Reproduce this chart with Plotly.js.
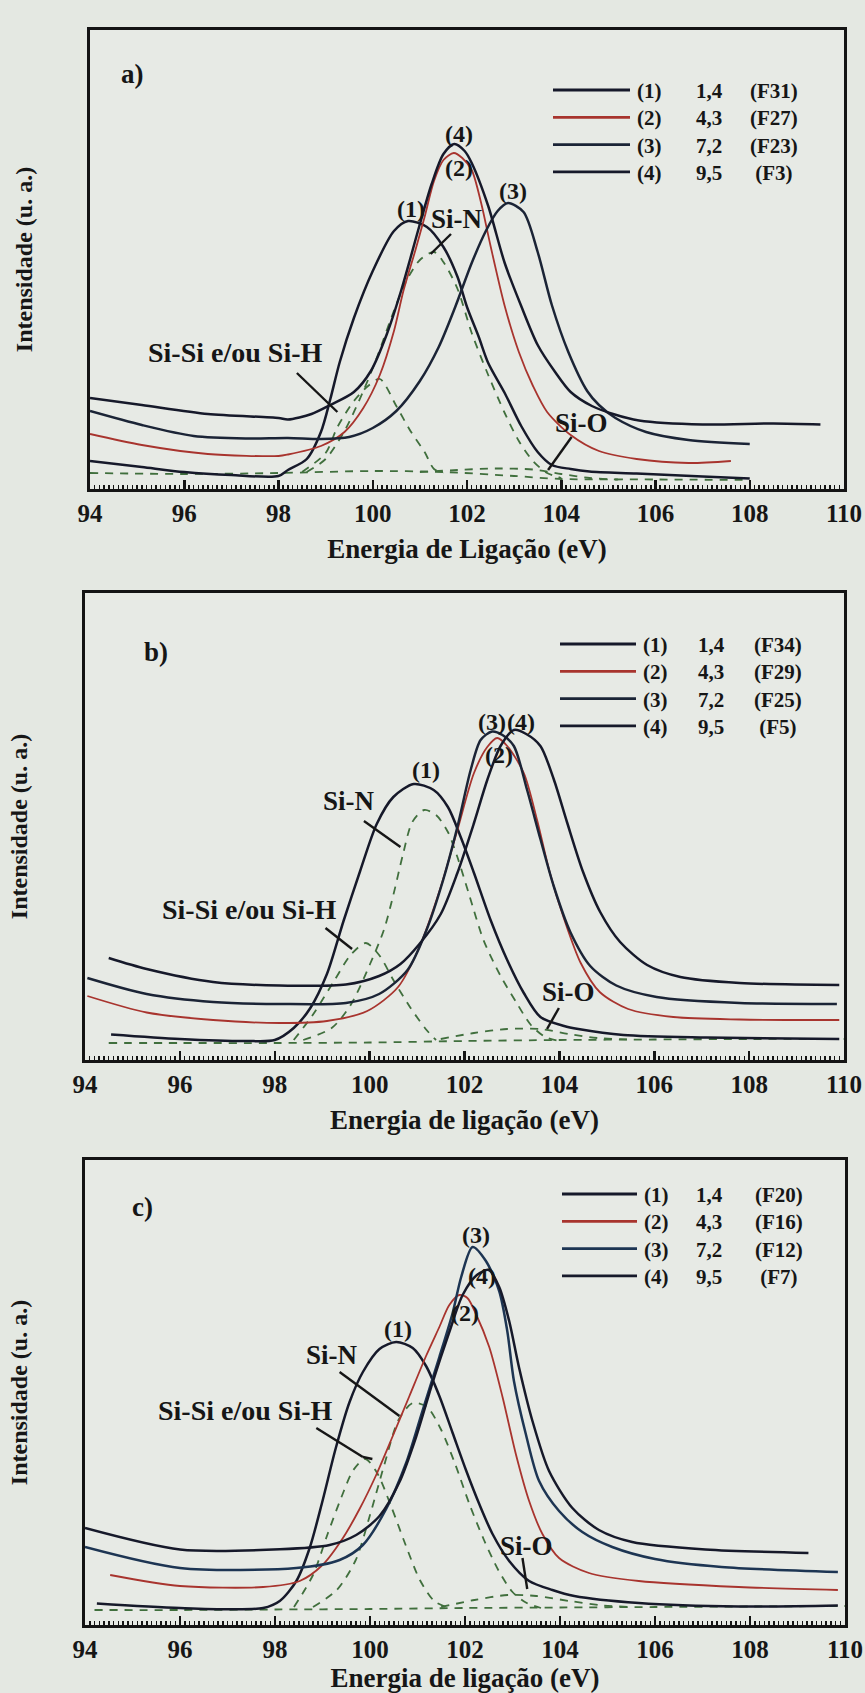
<!DOCTYPE html>
<html><head><meta charset="utf-8">
<script src="https://cdn.plot.ly/plotly-3.0.1.min.js"></script>
<style>html,body{margin:0;padding:0;background:#e2e6e0;}#chart{width:865px;height:1693px;}</style>
</head><body><div id="chart"></div>
<script>
// ---------- shared labels ----------
const SAMPLE_NUM = ['(1)', '(2)', '(3)', '(4)'];
const SAMPLE_VAL = ['1,4', '4,3', '7,2', '9,5'];
const FCODE_A = ['(F31)', '(F27)', '(F23)', '(F3)'];
const FCODE_B = ['(F34)', '(F29)', '(F25)', '(F5)'];
const FCODE_C = ['(F20)', '(F16)', '(F12)', '(F7)'];
const XTITLE_A = 'Energia de Ligação (eV)';
const XTITLE_BC = 'Energia de ligação (eV)';
const YTITLE = 'Intensidade (u. a.)';

// ---------- panel a ----------
const a1_e = [94.0, 95.1, 96.0, 97.0, 98.0, 98.2, 98.6, 98.9, 99.1, 99.3, 99.6, 100.0, 100.45, 100.75, 101.15, 101.5, 101.8, 102.0, 102.25, 102.45, 102.8, 103.15, 103.5, 103.8, 104.2, 104.6, 105.6, 107.0, 108.0];
const a1_i = [28, 22, 17, 14, 13, 19, 30, 57, 90, 127, 171, 218, 258, 268, 262, 242, 212, 182, 152, 126, 96, 63, 37, 24, 20, 17.5, 15.5, 12.5, 10.5];
const a2_e = [94.0, 95.1, 96.5, 98.0, 98.2, 98.9, 99.4, 99.8, 100.15, 100.45, 100.65, 100.9, 101.1, 101.3, 101.5, 101.72, 101.9, 102.1, 102.3, 102.5, 102.8, 103.1, 103.4, 103.7, 104.2, 104.8, 105.6, 106.7, 107.6];
const a2_i = [55, 44, 35, 33, 34.5, 43, 57, 81, 114, 158, 198, 238, 272, 308, 329, 336, 331, 319, 286, 243, 183, 137, 103, 77, 54, 38, 30, 26, 28];
const a3_e = [94.0, 95.1, 96.2, 97.3, 98.2, 98.9, 99.5, 100.0, 100.5, 101.0, 101.4, 101.75, 102.1, 102.4, 102.65, 102.87, 103.2, 103.5, 103.8, 104.15, 104.55, 104.8, 105.15, 105.8, 106.7, 108.0];
const a3_i = [78, 64, 53, 50.5, 51, 50, 52, 61, 78, 108, 142, 182, 226, 258, 278, 286, 277, 237, 184, 137, 98, 84, 71, 57, 49, 45];
const a4_e = [94.0, 95.1, 96.5, 98.0, 98.2, 98.7, 99.1, 99.6, 99.96, 100.3, 100.6, 100.8, 101.0, 101.25, 101.5, 101.73, 101.95, 102.1, 102.45, 102.8, 103.15, 103.5, 103.87, 104.2, 104.65, 105.1, 105.65, 107.0, 108.5, 109.5];
const a4_i = [91, 84, 75, 71, 69.5, 75, 84, 97, 118, 155, 198, 231, 265, 305, 335, 345, 338, 326, 283, 226, 183, 144, 117, 97, 83, 75, 68.5, 64.5, 65.5, 64.5];
const aBase_e = [94.0, 96.0, 98.0, 100.0, 101.5, 103.0, 104.0, 106.0, 108.0];
const aBase_i = [16, 15, 16, 18, 17, 13, 10, 9.5, 9];
const aSiSi_e = [98.5, 99.0, 99.25, 99.6, 99.9, 100.15, 100.5, 100.8, 101.1, 101.3, 101.5];
const aSiSi_i = [17, 36, 62, 88, 103, 110, 83, 58, 37, 20, 16];
const aSiN_e = [98.6, 99.0, 99.4, 99.8, 100.1, 100.4, 100.7, 101.0, 101.3, 101.5, 101.8, 102.1, 102.45, 102.8, 103.1, 103.4, 103.7, 104.0];
const aSiN_i = [17, 30, 58, 98, 133, 172, 207, 229, 237, 227, 200, 156, 114, 76, 48, 28, 16, 11];
const aSiO_e = [101.0, 101.8, 102.6, 103.4, 104.0, 104.6, 105.2];
const aSiO_i = [17, 19, 20.5, 19.5, 15, 11, 9.5];

// ---------- panel b ----------
const b1_e = [94.55, 96.0, 97.4, 98.0, 98.4, 98.75, 99.1, 99.45, 99.8, 100.15, 100.5, 100.93, 101.35, 101.65, 101.92, 102.2, 102.55, 102.9, 103.25, 103.6, 104.1, 104.4, 105.35, 107.1, 109.9];
const b1_i = [25.5, 21, 19, 20, 32, 52, 86, 139, 189, 236, 263, 276, 270, 253, 223, 187, 140, 100, 67, 43, 34, 31, 25, 22.5, 21];
const b2_e = [94.05, 95.3, 96.7, 98.1, 99.1, 99.95, 100.6, 101.05, 101.5, 101.85, 102.2, 102.48, 102.69, 102.9, 103.25, 103.53, 103.8, 104.1, 104.45, 104.85, 105.45, 106.4, 107.8, 109.9];
const b2_i = [64, 47.5, 40, 37, 39, 49, 73, 113, 173, 230, 287, 313, 322, 314, 287, 240, 187, 141, 97, 68, 51, 43, 40.5, 40];
const b3_e = [94.05, 95.3, 96.7, 98.1, 99.5, 100.2, 100.8, 101.2, 101.55, 101.85, 102.13, 102.34, 102.58, 102.8, 103.04, 103.32, 103.6, 103.88, 104.23, 104.65, 105.2, 106.05, 107.8, 109.85];
const b3_i = [82, 66, 58, 56, 57, 66, 90, 130, 180, 233, 290, 320, 328.5, 325, 314, 270, 221, 174, 128, 94, 74.5, 63, 57, 56];
const b4_e = [94.5, 95.3, 96.7, 98.1, 99.5, 100.2, 100.65, 101.05, 101.5, 101.85, 102.2, 102.48, 102.76, 103.04, 103.3, 103.6, 103.88, 104.16, 104.5, 104.86, 105.28, 105.85, 106.55, 107.8, 109.9];
const b4_i = [102, 91, 78, 74.5, 75.5, 84, 96, 116, 146, 187, 237, 280, 314, 330, 326, 314, 281, 238, 188, 148, 118, 95, 83, 77, 75];
const bBase_e = [94.5, 96.0, 98.0, 100.0, 102.0, 104.0, 106.0, 108.0, 110.0];
const bBase_i = [17, 17, 17, 17.5, 19, 20, 20.5, 21, 21];
const bSiSi_e = [98.4, 98.8, 99.25, 99.6, 99.92, 100.2, 100.5, 100.85, 101.2, 101.4];
const bSiSi_i = [20, 45, 79, 105, 117, 105, 80, 53, 30, 20];
const bSiN_e = [98.6, 99.2, 99.6, 100.0, 100.3, 100.5, 100.7, 100.9, 101.15, 101.4, 101.65, 101.85, 102.1, 102.4, 102.75, 103.1, 103.4, 103.7, 104.0];
const bSiN_i = [20, 32, 55, 95, 130, 165, 205, 238, 250, 245, 228, 203, 165, 120, 85, 57, 35, 23, 19];
const bSiO_e = [101.5, 102.2, 102.9, 103.6, 104.2, 104.8, 105.5];
const bSiO_i = [21, 27, 31, 31, 26, 22, 20.5];

// ---------- panel c ----------
const c1_e = [94.25, 96.0, 97.75, 98.1, 98.45, 98.73, 99.0, 99.28, 99.57, 99.85, 100.2, 100.55, 100.9, 101.18, 101.46, 101.74, 102.02, 102.3, 102.58, 102.93, 103.35, 103.84, 104.3, 105.66, 107.76, 109.85];
const c1_i = [21.5, 17, 17, 24, 44, 77, 124, 177, 223, 253, 276, 283, 277, 259, 229, 192, 155, 121, 91, 64, 44, 35, 29, 22, 18.5, 19.5];
const c2_e = [94.53, 96.0, 97.75, 98.52, 99.0, 99.43, 99.78, 100.13, 100.48, 100.83, 101.18, 101.46, 101.67, 101.88, 102.05, 102.23, 102.51, 102.79, 103.07, 103.35, 103.63, 103.98, 104.61, 105.66, 107.76, 109.85];
const c2_i = [50, 39, 38, 44, 60, 87, 116, 150, 189, 229, 269, 298, 320, 330, 327, 311, 278, 228, 171, 124, 91, 67, 52, 44, 38, 35];
const c3_e = [94.0, 96.0, 98.45, 99.36, 99.85, 100.34, 100.76, 101.11, 101.46, 101.74, 101.92, 102.16, 102.44, 102.72, 102.89, 103.03, 103.28, 103.56, 103.98, 104.47, 105.1, 106.0, 107.4, 109.85];
const c3_i = [78, 57, 57, 65, 80, 116, 162, 215, 268, 312, 348, 378, 364, 334, 294, 244, 191, 144, 114, 93, 78, 66, 58, 53];
const c4_e = [94.0, 96.0, 98.1, 99.15, 99.71, 100.2, 100.62, 100.97, 101.32, 101.67, 101.95, 102.25, 102.5, 102.72, 102.93, 103.14, 103.42, 103.77, 104.26, 104.82, 105.52, 107.06, 109.23];
const c4_i = [97, 75.5, 75.7, 80, 90, 109, 143, 188, 243, 293, 330, 350, 355, 338, 304, 257, 204, 154, 117, 95, 83, 75.5, 72];
const cBase_e = [94.2, 96.0, 98.0, 100.0, 102.0, 104.0, 106.0, 108.0, 110.0];
const cBase_i = [15, 15, 15.5, 16, 17, 17.5, 18, 18.5, 19];
const cSiSi_e = [98.4, 98.8, 99.1, 99.4, 99.65, 99.9, 100.15, 100.45, 100.75, 101.05, 101.35, 101.6];
const cSiSi_i = [18, 50, 90, 128, 155, 166, 152, 118, 80, 45, 24, 18];
const cSiN_e = [98.8, 99.3, 99.7, 100.0, 100.3, 100.6, 100.9, 101.2, 101.5, 101.8, 102.1, 102.4, 102.7, 103.0, 103.3, 103.6];
const cSiN_i = [18, 35, 65, 110, 160, 205, 222, 218, 195, 160, 120, 85, 55, 33, 22, 17];
const cSiO_e = [101.5, 102.2, 102.9, 103.5, 104.2, 104.9, 105.5];
const cSiO_i = [18, 25, 30, 29, 24, 19.5, 18];

// ---------- styling ----------
const SERIF = '"Liberation Serif", "Times New Roman", serif';
const INK = '#16192a';
const RED = '#a8342e';
const GREEN = '#406f3d';
const BG = '#e4e8e2';
const COLORS_AB = [INK, RED, '#1b2436', INK];
const COLORS_C = [INK, RED, '#1d3553', INK];
const W = 865, H = 1693;
const px = v => v / W;
const py = v => 1 - v / H;

function solid(x, y, color, width, ax) {
  return {type: 'scatter', mode: 'lines', x: x, y: y, xaxis: 'x' + ax, yaxis: 'y' + ax,
    line: {color: color, width: width, shape: 'spline', smoothing: 0.8}, showlegend: false, hoverinfo: 'skip'};
}
function dashed(x, y, ax) {
  return {type: 'scatter', mode: 'lines', x: x, y: y, xaxis: 'x' + ax, yaxis: 'y' + ax,
    line: {color: GREEN, width: 1.8, dash: '8px,7px', shape: 'spline', smoothing: 0.8}, showlegend: false, hoverinfo: 'skip'};
}

const panels = [
  {ax: '', c: [[a1_e, a1_i], [a2_e, a2_i], [a3_e, a3_i], [a4_e, a4_i]],
   d: [[aBase_e, aBase_i], [aSiSi_e, aSiSi_i], [aSiN_e, aSiN_i], [aSiO_e, aSiO_i]], colors: COLORS_AB},
  {ax: '2', c: [[b1_e, b1_i], [b2_e, b2_i], [b3_e, b3_i], [b4_e, b4_i]],
   d: [[bBase_e, bBase_i], [bSiSi_e, bSiSi_i], [bSiN_e, bSiN_i], [bSiO_e, bSiO_i]], colors: COLORS_AB},
  {ax: '3', c: [[c1_e, c1_i], [c2_e, c2_i], [c3_e, c3_i], [c4_e, c4_i]],
   d: [[cBase_e, cBase_i], [cSiSi_e, cSiSi_i], [cSiN_e, cSiN_i], [cSiO_e, cSiO_i]], colors: COLORS_C}
];

const traces = [];
panels.forEach(p => {
  p.d.forEach(s => traces.push(dashed(s[0], s[1], p.ax)));
  p.c.forEach((s, k) => traces.push(solid(s[0], s[1], p.colors[k], k === 1 ? 1.8 : 2.5, p.ax)));
});

function xaxis(domain, anchor, title) {
  return {domain: domain, anchor: anchor, range: [94, 110], showline: true, mirror: true, linewidth: 3, linecolor: '#141414',
    ticks: 'inside', ticklen: 9, tickwidth: 2.5, tickcolor: '#141414', tick0: 94, dtick: 2,
    tickfont: {family: SERIF, size: 25, weight: 700, color: '#161616'},
    minor: {tick0: 94, dtick: 0.1, ticks: 'inside', ticklen: 4, tickwidth: 1.5, tickcolor: '#141414', showgrid: false},
    showgrid: false, zeroline: false, fixedrange: true,
    title: {text: title, standoff: 14, font: {family: SERIF, size: 27, weight: 700, color: '#161616'}}};
}
function yaxis(domain, anchor, top) {
  return {domain: domain, anchor: anchor, range: [0, top], showline: true, mirror: true, linewidth: 3, linecolor: '#141414',
    ticks: '', showticklabels: false, showgrid: false, zeroline: false, fixedrange: true,
    title: {text: YTITLE, standoff: 48, font: {family: SERIF, size: 24, weight: 700, color: '#161616'}}};
}

const F = (size) => ({family: SERIF, size: size, weight: 700, color: '#161616'});
function lab(text, x, y, ax, size) {
  return {text: text, x: x, y: y, xref: 'x' + ax, yref: 'y' + ax, showarrow: false, font: F(size || 24), xanchor: 'center', yanchor: 'middle'};
}
function ptr(x0, y0, x1, y1, ax) {
  return {type: 'line', xref: 'x' + ax, yref: 'y' + ax, x0: x0, y0: y0, x1: x1, y1: y1, line: {color: '#161616', width: 2.4}};
}

const annotations = [
  // panel a
  lab('a)', 94.9, 415, '', 27), lab('(4)', 101.83, 355, ''), lab('(2)', 101.83, 321, ''), lab('(3)', 102.98, 298, ''),
  lab('(1)', 100.82, 280, ''), lab('Si-N', 101.78, 270, '', 27), lab('Si-Si e/ou Si-H', 97.07, 137, '', 28), lab('Si-O', 104.43, 66, '', 27),
  // panel b
  lab('b)', 95.5, 408, '2', 27), lab('(3)', 102.59, 338, '2'), lab('(4)', 103.2, 338, '2'), lab('(2)', 102.72, 305, '2'),
  lab('(1)', 101.18, 290, '2'), lab('Si-N', 99.56, 259, '2', 27), lab('Si-Si e/ou Si-H', 97.45, 151, '2', 28), lab('Si-O', 104.19, 68, '2', 27),
  // panel c
  lab('c)', 95.2, 418, '3', 27), lab('(3)', 102.23, 390, '3'), lab('(4)', 102.36, 349, '3'), lab('(2)', 102.0, 312, '3'),
  lab('(1)', 100.58, 296, '3'), lab('Si-N', 99.19, 270, '3', 27), lab('Si-Si e/ou Si-H', 97.37, 215, '3', 28), lab('Si-O', 103.29, 79, '3', 27)
];
const shapes = [
  ptr(101.66, 255, 101.23, 235, ''), ptr(98.39, 116, 99.25, 77, ''), ptr(104.22, 52, 103.72, 19, ''),
  ptr(99.88, 239, 100.65, 213, '2'), ptr(99.07, 132, 99.63, 111, '2'), ptr(103.99, 52, 103.74, 31, '2'),
  ptr(99.36, 253, 100.62, 209, '3'), ptr(98.87, 197, 99.85, 168, '3'), ptr(99.85, 168, 100.05, 166, '3'), ptr(103.21, 67, 103.31, 36, '3')
];

// manual legends: a line sample per row + three multi-line text columns
const LEG_FONT = 21;
const LEG_STEP = LEG_FONT * 1.3;
const legends = [
  {top: 91, lx: [553, 630], cols: [635, 694, 748], f: FCODE_A, colors: COLORS_AB},
  {top: 645, lx: [560, 636], cols: [641, 696, 752], f: FCODE_B, colors: COLORS_AB},
  {top: 1195, lx: [562, 637], cols: [642, 694, 753], f: FCODE_C, colors: COLORS_C}
];
legends.forEach(L => {
  for (let k = 0; k < 4; k++) {
    const r = L.top + k * LEG_STEP;
    shapes.push({type: 'line', xref: 'paper', yref: 'paper', x0: px(L.lx[0]), x1: px(L.lx[1]), y0: py(r - 1), y1: py(r - 1),
      line: {color: L.colors[k], width: 2.8}});
  }
  const mid = L.top + 1.5 * LEG_STEP;
  const fcol = L.f.map(t => (t.length === 4 ? '\u00a0' : '') + t);
  [SAMPLE_NUM, SAMPLE_VAL, fcol].forEach((col, j) => {
    annotations.push({text: col.join('<br>'), x: px(L.cols[j]), y: py(mid), xref: 'paper', yref: 'paper', showarrow: false,
      xanchor: 'left', yanchor: 'middle', align: 'left', font: F(LEG_FONT)});
  });
});

const layout = {
  width: W, height: H, margin: {l: 0, r: 0, t: 0, b: 0},
  paper_bgcolor: BG, plot_bgcolor: '#e7eae5', showlegend: false,
  xaxis: xaxis([px(90), px(844)], 'y', XTITLE_A),
  yaxis: yaxis([py(489), py(30)], 'x', 459),
  xaxis2: xaxis([px(85), px(844)], 'y2', XTITLE_BC),
  yaxis2: yaxis([py(1060), py(593)], 'x2', 467),
  xaxis3: xaxis([px(85), px(845)], 'y3', XTITLE_BC),
  yaxis3: yaxis([py(1625), py(1160)], 'x3', 465),
  annotations: annotations, shapes: shapes
};

Plotly.newPlot('chart', traces, layout, {staticPlot: true, displayModeBar: false});
</script></body></html>
